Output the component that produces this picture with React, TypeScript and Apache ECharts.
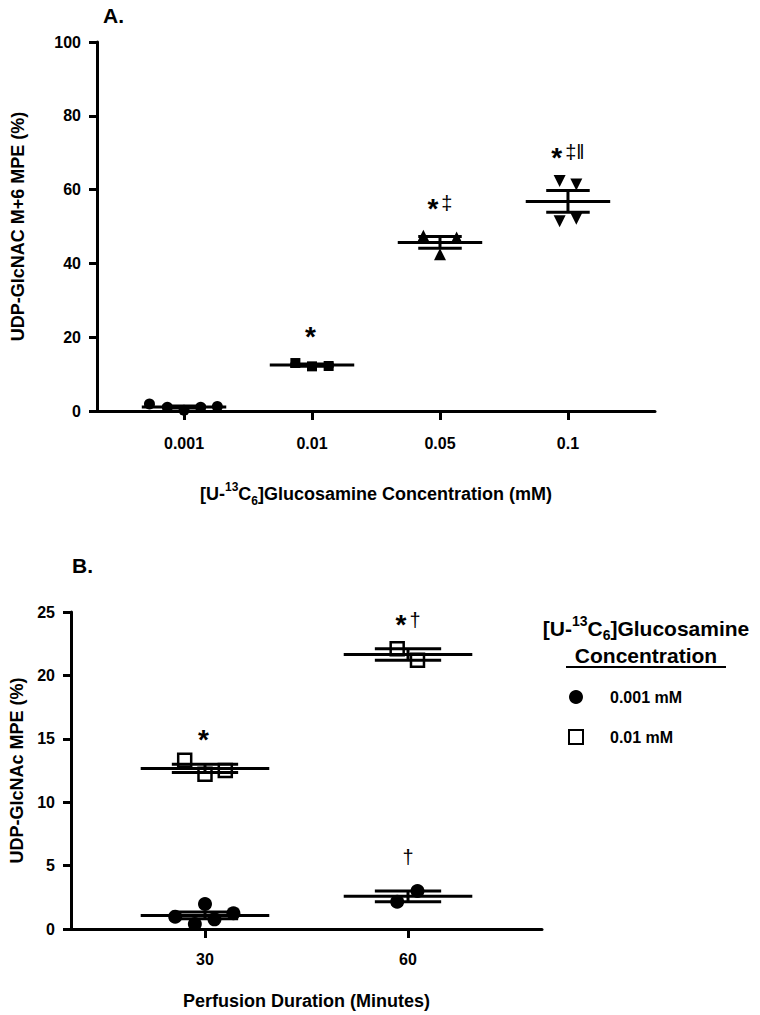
import React, { useEffect, useRef } from 'react';
import * as echarts from 'echarts';

// ---------- Data ----------
// Panel A: UDP-GlcNAc M+6 MPE (%) by [U-13C6]glucosamine concentration (mM)
const concCategories = ['0.001', '0.01', '0.05', '0.1'];
const mpeA_0001 = [1.9, 1.0, 0.2, 1.0, 1.2];
const mpeA_001 = [13.0, 12.1, 12.2];
const mpeA_005 = [47.5, 42.5, 47.0];
const mpeA_01 = [62.3, 61.4, 51.4, 52.1];
const sigA_cat = [1, 2, 3];
const sigA_text = ['*', '*‡', '*‡‖'];
const sigA_y = [21.5, 56.3, 70.1];

// Panel B: UDP-GlcNAc MPE (%) by perfusion duration (minutes)
const durations = [30, 60];
const mpeB_0001_30 = [0.97, 0.39, 1.97, 0.76, 1.24];
const mpeB_0001_60 = [2.15, 3.0];
const mpeB_001_30 = [13.3, 12.2, 12.5];
const mpeB_001_60 = [22.1, 21.2];
const sigB_x = [30, 60, 60];
const sigB_text = ['*', '*†', '†'];
const sigB_y = [15.3, 24.4, 5.7];
const legendNames = ['0.001 mM', '0.01 mM'];

// ---------- Layout constants (not data) ----------
const JIT_A = [
  [-0.27, -0.13, 0, 0.13, 0.26],
  [-0.13, 0, 0.13],
  [-0.13, 0, 0.13],
  [-0.065, 0.065, -0.065, 0.065],
];
const JIT_B = {
  c30: [-4.4, -1.5, 0, 1.4, 4.2],
  c60: [-1.6, 1.4],
  s30: [-3, 0, 3],
  s60: [-1.6, 1.4],
};
const FONT = '"Liberation Sans", Arial, sans-serif';

function meanSem(v: number[]) {
  const n = v.length;
  const m = v.reduce((a, b) => a + b, 0) / n;
  const sd = Math.sqrt(v.reduce((a, b) => a + (b - m) * (b - m), 0) / (n - 1));
  return [m, sd / Math.sqrt(n)];
}

function sigRich(t: string) {
  return t
    .split('')
    .map((c) => (c === '*' ? '{s|*}' : '{d|' + c + '}'))
    .join('');
}

const sigRichStyles = {
  s: { fontSize: 28, fontWeight: 'bold', color: '#000', fontFamily: FONT, lineHeight: 30, padding: [10, 3, 0, 0] },
  d: { fontSize: 20, fontWeight: 'normal', color: '#000', fontFamily: FONT, lineHeight: 30 },
};

function errBarSeries(xAxisIndex: number, yAxisIndex: number, items: number[][], hwMean: number, hwSem: number) {
  return {
    type: 'custom',
    xAxisIndex,
    yAxisIndex,
    clip: false,
    z: 5,
    data: items,
    encode: { x: 0, y: 1 },
    renderItem: (params: any, api: any) => {
      const x = api.value(0);
      const m = api.value(1);
      const s = api.value(2);
      const st = { stroke: '#000', lineWidth: 3 };
      const ln = (x1: number, y1: number, x2: number, y2: number) => {
        const a = api.coord([x1, y1]);
        const b = api.coord([x2, y2]);
        return { type: 'line', shape: { x1: a[0], y1: a[1], x2: b[0], y2: b[1] }, style: st };
      };
      return {
        type: 'group',
        children: [
          ln(x - hwMean, m, x + hwMean, m),
          ln(x - hwSem, m + s, x + hwSem, m + s),
          ln(x - hwSem, m - s, x + hwSem, m - s),
          ln(x, m - s, x, m + s),
        ],
      };
    },
  };
}

export default function App() {
  const ref = useRef<HTMLDivElement>(null);

  useEffect(() => {
    if (!ref.current) return;
    const chart = echarts.init(ref.current, null, { renderer: 'svg' });

    const groupsA = [mpeA_0001, mpeA_001, mpeA_005, mpeA_01];
    const symbolsA = ['circle', 'rect', 'triangle', 'triangle'];
    const rotA = [0, 0, 0, 180];
    const sizesA = [11, 10, 12, 12];

    const scatterA = groupsA.map((vals, gi) => ({
      type: 'scatter',
      xAxisIndex: 0,
      yAxisIndex: 0,
      symbol: symbolsA[gi],
      symbolRotate: rotA[gi],
      symbolSize: sizesA[gi],
      itemStyle: { color: '#000', opacity: 1 },
      z: 3,
      data: vals.map((v, i) => [gi + JIT_A[gi][i], v]),
    }));

    const statsA = groupsA.map((vals, gi) => {
      const [m, s] = meanSem(vals);
      return [gi, m, s];
    });

    const statsB = [
      [durations[0], ...meanSem(mpeB_0001_30)],
      [durations[1], ...meanSem(mpeB_0001_60)],
      [durations[0], ...meanSem(mpeB_001_30)],
      [durations[1], ...meanSem(mpeB_001_60)],
    ];

    const axisLineStyle = { color: '#000', width: 3 };
    const tickLabel = { color: '#000', fontSize: 16, fontWeight: 'bold', fontFamily: FONT };
    const nameStyle = { color: '#000', fontSize: 18, fontWeight: 'bold', fontFamily: FONT };
    const sigLabel = {
      show: true,
      position: 'inside',
      color: '#000',
      opacity: 1,
      formatter: (p: any) => p.data.lbl,
      rich: sigRichStyles,
    };

    const option: any = {
      animation: false,
      textStyle: { fontFamily: FONT, color: '#000' },
      grid: [
        { left: 97, top: 42, right: 105, bottom: 604, containLabel: false },
        { left: 67, top: 612, right: 218, bottom: 86, containLabel: false },
      ],
      xAxis: [
        {
          type: 'value',
          gridIndex: 0,
          min: -0.68,
          max: 3.68,
          splitLine: { show: false },
          axisLine: { show: true, onZero: false, lineStyle: axisLineStyle },
          axisTick: { show: true, length: 9, lineStyle: { width: 3, color: '#000' }, customValues: [0, 1, 2, 3] },
          axisLabel: {
            ...tickLabel,
            margin: 24,
            customValues: [0, 1, 2, 3],
            formatter: (v: number) => concCategories[Math.round(v)] ?? '',
          },
          name: '{a|[U-}{sup|13}{a|C}{sub|6}{a|]Glucosamine Concentration (mM)}',
          nameLocation: 'middle',
          nameGap: 70,
          nameTextStyle: {
            rich: {
              a: { fontSize: 18, fontWeight: 'bold', color: '#000', fontFamily: FONT, lineHeight: 26 },
              sup: { fontSize: 12, fontWeight: 'bold', color: '#000', fontFamily: FONT, lineHeight: 12, verticalAlign: 'top' },
              sub: { fontSize: 12, fontWeight: 'bold', color: '#000', fontFamily: FONT, lineHeight: 12, verticalAlign: 'bottom' },
            },
          },
        },
        {
          type: 'value',
          gridIndex: 1,
          min: 10.2,
          max: 79.8,
          splitLine: { show: false },
          axisLine: { show: true, onZero: false, lineStyle: axisLineStyle },
          axisTick: { show: true, length: 9, lineStyle: { width: 3, color: '#000' }, customValues: durations },
          axisLabel: { ...tickLabel, margin: 22, customValues: durations, formatter: (v: number) => String(v) },
          name: 'Perfusion Duration (Minutes)',
          nameLocation: 'middle',
          nameGap: 63,
          nameTextStyle: nameStyle,
        },
      ],
      yAxis: [
        {
          type: 'value',
          gridIndex: 0,
          min: 0,
          max: 100,
          interval: 20,
          splitLine: { show: false },
          axisLine: { show: true, onZero: false, lineStyle: axisLineStyle },
          axisTick: { show: true, length: 8, lineStyle: { width: 3, color: '#000' } },
          axisLabel: { ...tickLabel, margin: 16 },
          name: 'UDP-GlcNAC M+6 MPE (%)',
          nameLocation: 'middle',
          nameGap: 70,
          nameTextStyle: nameStyle,
        },
        {
          type: 'value',
          gridIndex: 1,
          min: 0,
          max: 25,
          interval: 5,
          splitLine: { show: false },
          axisLine: { show: true, onZero: false, lineStyle: axisLineStyle },
          axisTick: { show: true, length: 8, lineStyle: { width: 3, color: '#000' } },
          axisLabel: { ...tickLabel, margin: 16 },
          name: 'UDP-GlcNAc MPE (%)',
          nameLocation: 'middle',
          nameGap: 45,
          nameTextStyle: nameStyle,
        },
      ],
      legend: {
        data: [
          { name: legendNames[0], icon: 'circle' },
          { name: legendNames[1], icon: 'rect' },
        ],
        orient: 'vertical',
        left: 563,
        top: 684,
        itemWidth: 14,
        itemHeight: 14,
        itemGap: 24,
        textStyle: { color: '#000', fontSize: 16, fontWeight: 'bold', fontFamily: FONT, padding: [0, 0, 0, 22] },
        selectedMode: false,
      },
      graphic: [
        { type: 'text', x: 103, y: 5, style: { text: 'A.', fontSize: 21, fontWeight: 'bold', fill: '#000', fontFamily: FONT } },
        { type: 'text', x: 72, y: 555, style: { text: 'B.', fontSize: 21, fontWeight: 'bold', fill: '#000', fontFamily: FONT } },
        {
          type: 'text',
          x: 646,
          y: 628,
          style: {
            text: '{a|[U-}{sup|13}{a|C}{sub|6}{a|]Glucosamine}',
            align: 'center',
            verticalAlign: 'middle',
            rich: {
              a: { fontSize: 21, fontWeight: 'bold', fill: '#000', fontFamily: FONT, lineHeight: 28 },
              sup: { fontSize: 14, fontWeight: 'bold', fill: '#000', fontFamily: FONT, lineHeight: 14, verticalAlign: 'top' },
              sub: { fontSize: 14, fontWeight: 'bold', fill: '#000', fontFamily: FONT, lineHeight: 14, verticalAlign: 'bottom' },
            },
          },
        },
        {
          type: 'text',
          x: 646,
          y: 655,
          style: { text: 'Concentration', align: 'center', verticalAlign: 'middle', fontSize: 21, fontWeight: 'bold', fill: '#000', fontFamily: FONT },
        },
        { type: 'line', shape: { x1: 566, y1: 667, x2: 726, y2: 667 }, style: { stroke: '#000', lineWidth: 2 } },
      ],
      series: [
        ...scatterA,
        errBarSeries(0, 0, statsA, 0.33, 0.17),
        {
          type: 'scatter',
          xAxisIndex: 0,
          yAxisIndex: 0,
          symbolSize: 1,
          itemStyle: { color: 'rgba(0,0,0,0)' },
          z: 6,
          data: sigA_cat.map((c, i) => ({ value: [c, sigA_y[i]], lbl: sigRich(sigA_text[i]) })),
          label: sigLabel,
        },
        {
          name: legendNames[0],
          type: 'scatter',
          xAxisIndex: 1,
          yAxisIndex: 1,
          symbol: 'circle',
          symbolSize: 14,
          itemStyle: { color: '#000', opacity: 1 },
          z: 3,
          data: [
            ...mpeB_0001_30.map((v, i) => [durations[0] + JIT_B.c30[i], v]),
            ...mpeB_0001_60.map((v, i) => [durations[1] + JIT_B.c60[i], v]),
          ],
        },
        {
          name: legendNames[1],
          type: 'scatter',
          xAxisIndex: 1,
          yAxisIndex: 1,
          symbol: 'rect',
          symbolSize: 13,
          itemStyle: { color: '#fff', borderColor: '#000', borderWidth: 2.5, opacity: 1 },
          z: 3,
          data: [
            ...mpeB_001_30.map((v, i) => [durations[0] + JIT_B.s30[i], v]),
            ...mpeB_001_60.map((v, i) => [durations[1] + JIT_B.s60[i], v]),
          ],
        },
        errBarSeries(1, 1, statsB, 9.5, 4.9),
        {
          type: 'scatter',
          xAxisIndex: 1,
          yAxisIndex: 1,
          symbolSize: 1,
          itemStyle: { color: 'rgba(0,0,0,0)' },
          z: 6,
          data: sigB_x.map((x, i) => ({ value: [x, sigB_y[i]], lbl: sigRich(sigB_text[i]) })),
          label: sigLabel,
        },
      ],
    };

    chart.setOption(option);
    return () => chart.dispose();
  }, []);

  return (
    <div
      ref={ref}
      style={{ position: 'absolute', left: 0, top: 0, width: 760, height: 1015, background: '#fff' }}
    />
  );
}
